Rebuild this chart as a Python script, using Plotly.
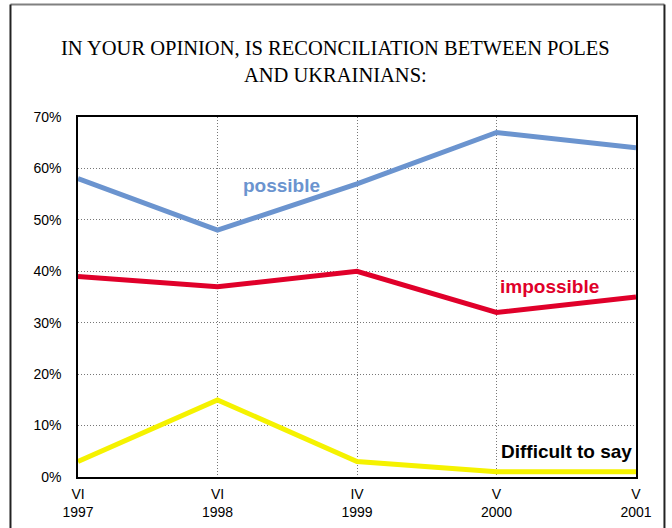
import plotly.graph_objects as go

# Survey waves (month, year) and answer shares in percent
waves = ["VI<br>1997", "VI<br>1998", "IV<br>1999", "V<br>2000", "V<br>2001"]
possible = [58, 48, 57, 67, 64]
impossible = [39, 37, 40, 32, 35]
difficult = [3, 15, 3, 1, 1]

x_idx = list(range(len(waves)))

fig = go.Figure()
fig.add_trace(go.Scatter(x=x_idx, y=possible, mode="lines", name="possible",
                         line=dict(color="#6b94cf", width=5)))
fig.add_trace(go.Scatter(x=x_idx, y=impossible, mode="lines", name="impossible",
                         line=dict(color="#e0002a", width=5)))
fig.add_trace(go.Scatter(x=x_idx, y=difficult, mode="lines", name="Difficult to say",
                         line=dict(color="#f5f200", width=5)))

label_font = dict(family="Liberation Sans, Arial, sans-serif", size=19)
fig.add_annotation(x=1.46, y=56.6, text="<b>possible</b>", showarrow=False,
                   font=dict(color="#6b94cf", **label_font))
fig.add_annotation(x=3.38, y=37.0, text="<b>impossible</b>", showarrow=False,
                   font=dict(color="#e0002a", **label_font))
fig.add_annotation(x=3.5, y=5.0, text="<b>Difficult to say</b>", showarrow=False,
                   font=dict(color="black", **label_font))

fig.add_annotation(xref="paper", yref="paper", x=0.462, y=(477 - 61) / 360,
                   text="IN YOUR OPINION, IS RECONCILIATION BETWEEN POLES<br>AND UKRAINIANS:",
                   showarrow=False, yanchor="middle",
                   font=dict(family="Liberation Serif, Times New Roman, serif", size=20.5, color="black"))

# Outer frame around the whole chart
fig.add_shape(type="line", xref="paper", yref="paper", x0=-0.121, x1=1.051, y0=1.3125, y1=1.3125,
              line=dict(color="#808080", width=2))
fig.add_shape(type="line", xref="paper", yref="paper", x0=-0.121, x1=-0.121, y0=1.3125, y1=-0.2,
              line=dict(color="#222222", width=2))
fig.add_shape(type="line", xref="paper", yref="paper", x0=1.051, x1=1.051, y0=1.3125, y1=-0.2,
              line=dict(color="#222222", width=2))

tick_font = dict(family="Liberation Sans, Arial, sans-serif", size=14, color="black")
fig.update_xaxes(range=[0, 4], tickvals=x_idx, ticktext=waves, tickfont=tick_font,
                 showgrid=True, gridcolor="#777777", griddash="1px,2px", gridwidth=1,
                 showline=True, linecolor="black", linewidth=1.5, mirror=True,
                 zeroline=False, ticks="", ticklabelstandoff=3, automargin=False)
fig.update_yaxes(range=[0, 70], dtick=10, ticksuffix="%", tickfont=tick_font,
                 showgrid=True, gridcolor="#777777", griddash="1px,2px", gridwidth=1,
                 showline=True, linecolor="black", linewidth=1.5, mirror=True,
                 zeroline=False, ticks="", ticklabelstandoff=12, automargin=False)

fig.update_layout(width=672, height=528, showlegend=False,
                  margin=dict(l=78, r=36, t=117, b=51),
                  paper_bgcolor="white", plot_bgcolor="white")

fig.write_html("out.html")
